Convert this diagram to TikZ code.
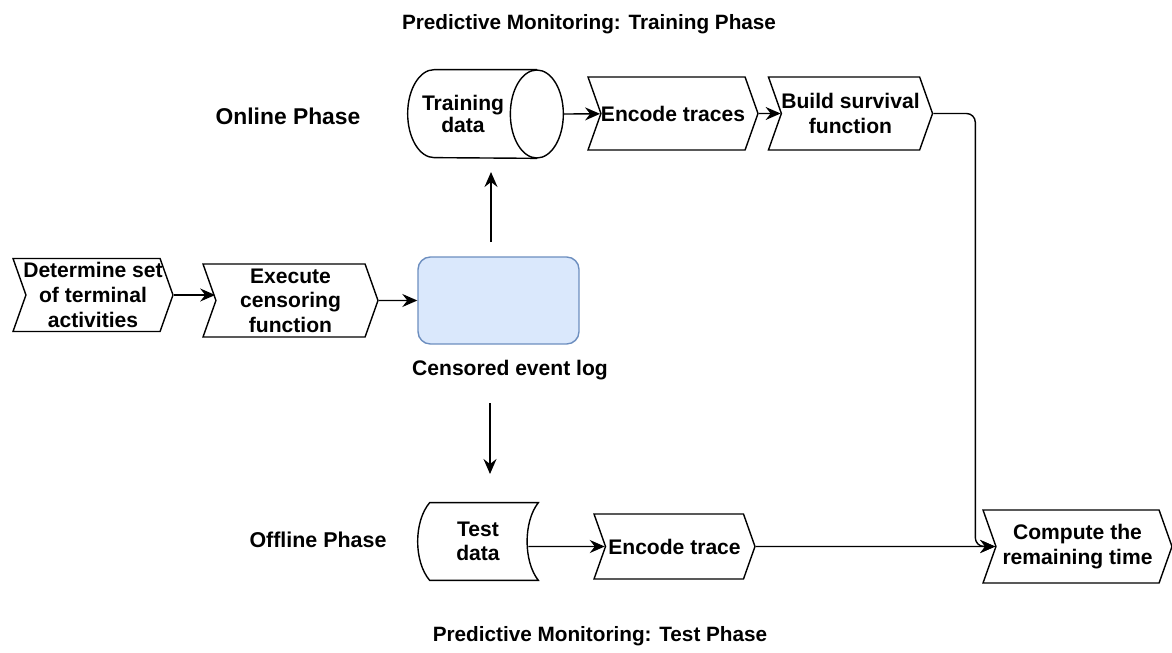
\documentclass[tikz,border=0pt]{standalone}
\usepackage{fontspec}
\setmainfont{Liberation Sans}
\usetikzlibrary{calc,positioning,shapes.symbols,arrows.meta}

\begin{document}
\begin{tikzpicture}[x=0.02cm, y=-0.02cm,
font=\fontsize{12}{14}\selectfont\bfseries,
stepbox/.style = {signal, signal from=west, signal to=east, draw, thick,
	signal pointer angle=141, align=center, inner xsep=0pt, inner ysep=1pt,
	minimum height=1.46cm},
logbox/.style = {rectangle, rounded corners=7pt, draw=logline, thick,
	fill=logfill, minimum width=3.22cm, minimum height=1.74cm},
caption/.style = {align=center},
line/.style = {draw, thick, -{Stealth[length=3mm,width=2.6mm,inset=1mm]}}]

\definecolor{logfill}{RGB}{218,232,252}
\definecolor{logline}{RGB}{108,142,191}

\useasboundingbox (0,0) rectangle (1172,652);

% captions
\node[caption, font=\fontsize{11.8}{14}\selectfont\bfseries] (titletrain) at (589,24) {Predictive Monitoring: Training Phase};
\node[caption, font=\fontsize{13}{15}\selectfont\bfseries] (online) at (288,116) {Online Phase};
\node[caption, font=\fontsize{12.2}{14}\selectfont\bfseries] (offline) at (318,540) {Offline Phase};
\node[caption, font=\fontsize{11.8}{14}\selectfont\bfseries] (titletest) at (600,636) {Predictive Monitoring: Test Phase};

% left chain
\node[stepbox, minimum width=3.2cm, inner xsep=-3pt] (terminal) at (93,295) {Determine set\\of terminal\\activities};
\node[stepbox, minimum width=3.5cm] (censor) at (290.5,300.5) {Execute\\censoring\\function};
\node[logbox] (log) at (498.5,300.5) {};
\node[caption] (loglabel) at (510,370) {Censored event log};

% training phase (cylinder drawn round the node)
\node[align=center, inner sep=0pt, minimum width=2.2cm, minimum height=1.76cm,
	font=\fontsize{12}{13}\selectfont\bfseries] (train) at (463,114) {Training\\data};
\draw[thick] ($(train.north east)+(18.5,0)$) -- ($(train.north west)+(26.5,0)$)
	arc[start angle=90, end angle=270, x radius=0.53cm, y radius=0.88cm]
	-- ($(train.south east)+(18.5,0)$);
\draw[thick] ($(train.east)+(18.5,0)$) ellipse [x radius=0.53cm, y radius=0.88cm];
\node[stepbox, minimum width=3.2cm] (encode) at (673,113.5) {Encode traces};
\node[stepbox, minimum width=3.18cm] (survival) at (850.5,113.5) {Build survival\\function};

% test phase
\node[inner sep=0pt, minimum width=2.4cm, minimum height=1.54cm, align=center] (test) at (478,541.5) {Test\\data};
\draw[thick] ($(test.north west)+(12,0)$) -- (test.north east)
	.. controls ($(test.east)+(-15,-20)$) and ($(test.east)+(-15,20)$) .. (test.south east)
	-- ($(test.south west)+(12,0)$)
	.. controls ($(test.west)+(-4,20)$) and ($(test.west)+(-4,-20)$) .. cycle;
\node[stepbox, minimum width=3.22cm, minimum height=1.3cm] (trace) at (674.5,546.5) {Encode trace};
\node[stepbox, minimum width=3.78cm] (remaining) at (1077.5,546.5) {Compute the\\remaining time};

% free arrow ends
\coordinate (upstart) at (491,242);
\coordinate (upend) at (491,172);
\coordinate (downstart) at (490,403);
\coordinate (downend) at (490,474);

\begin{scope}[every path/.style=line]
\path (terminal.east) -- (terminal.east -| censor.west);
\path (censor) -- (log);
\path (upstart) -- (upend);
\path (downstart) -- (downend);
\path ($(train.east)+(45,0)$) -- (encode);
\path (encode) -- (survival);
\path[rounded corners=5pt] (survival.east) -- ($(survival.east)+(42,0)$) |- (remaining.west);
\path ($(test.east)+(-10,5)$) -- (trace);
\path (trace) -- (remaining);
\end{scope}

\end{tikzpicture}
\end{document}
